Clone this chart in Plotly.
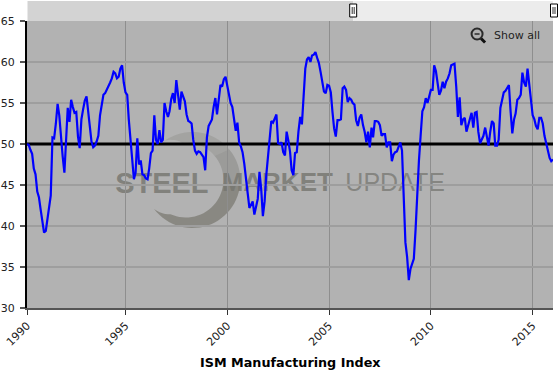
import numpy as np
import pandas as pd
import plotly.graph_objects as go

series_name = "ISM Manufacturing Index"
y_ticks = [30, 35, 40, 45, 50, 55, 60, 65]
x_tick_labels = ["1990", "1995", "2000", "2005", "2010", "2015"]
x_tick_dates = ["1990-03-01", "1995-01-01", "2000-01-01", "2005-01-01", "2010-01-01", "2015-01-01"]
reference_level = 50

values_1990s = [
    50, 49.9, 49.3, 48.8, 47, 46.3, 44.2, 43.5, 42, 40.5, 39.2,
    39.4, 40.8, 42.7, 43.7, 50.8, 50.7, 52.5, 54.9, 53.5, 50.5, 48.5, 46.5,
    51.5, 54.4, 52.7, 55.4, 54.5, 53.8, 53.9, 50.9, 49.5, 53, 54.2, 55.3,
    55.8, 54, 51.5, 50.3, 49.6, 49.8, 50.3, 51, 53.5, 55, 56, 56.2,
    56.6, 57, 57.5, 58, 58.8, 58.6, 58, 58.2, 59.2, 59.6, 57.5, 56.3,
    56, 53, 50.5, 47.8, 45.7, 46.5, 50.7, 47.5, 48, 46.3, 46.2, 45.8,
    45.7, 47, 48.9, 49.2, 53.5, 50.5, 50, 51.7, 50.2, 50.5, 55, 54,
    53.3, 54, 55.5, 56.2, 55, 57.8, 56, 54.2, 56.4, 55.8, 55.2, 53.6,
    52.8, 52.7, 52.5, 50.5, 49.2, 48.8, 49.1, 49, 48.7, 48.4, 46.8, 50.8,
    52.2, 52.5, 53, 54.5, 55.6, 53.6, 55.5, 57.2, 57, 57.9, 58.2, 57,
]
values_2000s = [
    55.8, 55, 54.5, 53.2, 51.6, 52.6, 50.2, 49.7, 49, 47.6, 45.5, 44,
    42.2, 42.7, 43, 41.4, 42.5, 43.3, 46.6, 44.5, 41.2, 43, 46.2, 48.3,
    51, 52.8, 52.6, 53.2, 53.6, 50.1, 50, 50.2, 49, 48.6, 51.5, 50.4,
    49, 46.8, 46.2, 48.9, 49, 51.5, 53.3, 52.4, 56, 59.2, 60.3, 60.6,
    60, 60.8, 60.9, 61.2, 60.5, 59.9, 58.8, 57.5, 56.4, 56.2, 57.2, 57.1,
    56.3, 54, 51.9, 50.9, 52.9, 52.9, 53, 56.8, 57, 56.6, 55.1, 55.6,
    55.4, 55, 54.8, 52.9, 52.2, 53.2, 53.6, 52.3, 51.5, 50.2, 51.5, 49.6,
    52, 50.8, 52.8, 52.8, 52.7, 52.3, 51, 51.2, 51.2, 49.6, 50.2, 50.2,
    47.9, 48.7, 49, 49.1, 49.8, 50.2, 49.2, 43, 38, 36.2, 33.4, 34.8,
    35.4, 36, 39.5, 44, 48, 51, 54, 54.5, 55.6, 55, 56, 56.6,
]
values_2010s = [
    56.6, 59.6, 58.9, 57.5, 56, 56.5, 57.6, 56.8, 57.6, 58, 58.6, 59.6,
    59.7, 59.8, 57, 53.3, 55.7, 52.3, 53, 53.2, 51.5, 52.2, 53, 53.8,
    52, 53.8, 53.9, 51.5, 50.1, 50.5, 51, 52, 51, 49.8, 51.5, 52.8,
    52.5, 49.8, 49.8, 50.5, 54.4, 55.5, 56.3, 56.5, 56.8, 57.2, 54, 51.3,
    53, 53.7, 55.4, 55.6, 56, 58.7, 57.5, 57, 59.2, 57, 55, 53.5,
    53, 52.2, 51.8, 53.2, 53.2, 52.5, 51, 50.1, 49.3, 48.3, 47.9, 48.1,
]
values = values_1990s + values_2000s + values_2010s
dates = pd.date_range("1990-03-01", periods=len(values), freq="MS")

W, H = 560, 371
L, R, T, B = 26.5, 553.0, 21.0, 308.0


def px(x):
    return (x - L) / (R - L)


def py(y):
    return (B - y) / (B - T)


def rect(x0, y0, x1, y1, fill, line=None, lw=0, layer="above"):
    return dict(type="rect", xref="paper", yref="paper", x0=px(x0), x1=px(x1), y0=py(y0), y1=py(y1),
                fillcolor=fill, line=dict(color=line or fill, width=lw), layer=layer)


def seg(x0, y0, x1, y1, color, lw):
    return dict(type="line", xref="paper", yref="paper", x0=px(x0), x1=px(x1), y0=py(y0), y1=py(y1),
                line=dict(color=color, width=lw), layer="above")


def word(text, x0, x1, size, color):
    return dict(type="rect", xref="paper", yref="paper", x0=px(x0), x1=px(x1), y0=py(192), y1=py(168),
                line=dict(width=0), fillcolor="rgba(0,0,0,0)", layer="below",
                label=dict(text=text, textposition="middle center",
                           font=dict(family="Liberation Sans", size=size, color=color)))


def ring_piece(a0, a1, fill):
    """One stretch of the logo's crescent, tapering towards the two open tips."""
    full0, full1 = -125.0, 143.0
    a = np.linspace(a0, a1, 30)
    t = (a - full0) / (full1 - full0)
    taper = np.clip(np.sin(np.pi * t) * 3, 0, 1)
    r = np.radians(a)
    ox, oy = 192 + 48 * np.cos(r), 180 + 48 * np.sin(r)
    ix, iy = 185.6 + 37.5 * np.cos(r), 180 + 37.5 * np.sin(r)
    ix, iy = ox + (ix - ox) * taper, oy + (iy - oy) * taper
    pts = list(zip(ox, oy)) + list(zip(ix[::-1], iy[::-1]))
    path = "M" + "L".join(f"{px(x):.4f},{py(y):.4f}" for x, y in pts) + "Z"
    return dict(type="path", xref="paper", yref="paper", path=path, fillcolor=fill,
                line=dict(width=0), layer="below")


shapes = [
    ring_piece(-125, -40, "rgba(125,125,118,0.28)"),
    ring_piece(-40, 5, "rgba(125,125,118,0.42)"),
    ring_piece(5, 143, "rgba(118,116,108,0.68)"),
    word("<b>STEEL</b>", 110, 213, 29, "rgba(118,118,112,0.82)"),
    word("<b>MARKET</b>", 217, 337, 26, "rgba(118,118,112,0.82)"),
    word("UPDATE", 340, 450, 25, "rgba(125,125,120,0.85)"),
    rect(27, 1, 353, 21, "#d3d3d3", layer="above"),
    rect(353, 1, 553, 21, "#ececec", layer="above"),
    dict(type="circle", xref="paper", yref="paper", x0=px(471.5), x1=px(482.5), y0=py(39.5), y1=py(28.5),
         fillcolor="rgba(0,0,0,0)", line=dict(color="#2b2b2b", width=2), layer="above"),
    seg(474.5, 34, 479.5, 34, "#2b2b2b", 1.5),
    seg(481, 38.5, 485, 42.5, "#111111", 3),
]
for hx in (349.5, 550.5):
    shapes.append(dict(type="rect", xref="paper", yref="paper", x0=px(hx), x1=px(hx + 7), y0=py(17), y1=py(4),
                       fillcolor="white", line=dict(color="black", width=1), layer="above"))
    shapes.append(seg(hx + 2.5, 7, hx + 2.5, 14, "#333333", 1))
    shapes.append(seg(hx + 4.5, 7, hx + 4.5, 14, "#333333", 1))

fig = go.Figure()
fig.add_trace(go.Scatter(x=[x_tick_dates[0], dates[-1]], y=[reference_level, reference_level], mode="lines",
                         line=dict(color="black", width=3), hoverinfo="skip", showlegend=False))
fig.add_trace(go.Scatter(x=dates, y=values, mode="lines", name=series_name,
                         line=dict(color="#0000ff", width=2.2), showlegend=False))

fig.update_layout(
    width=W, height=H, autosize=False,
    margin=dict(l=L, r=W - R, t=T, b=H - B, pad=0),
    paper_bgcolor="white", plot_bgcolor="#b2b2b2",
    font=dict(family="DejaVu Sans", size=11, color="#222222"),
    shapes=shapes,
    annotations=[
        dict(text="Show all", xref="paper", yref="paper", x=px(492), y=py(35), xanchor="left", yanchor="middle",
             showarrow=False, font=dict(family="DejaVu Sans", size=11, color="#222222")),
        dict(text=f"<b>{series_name}</b>", xref="paper", yref="paper", x=px(290.5), y=py(362), xanchor="center",
             yanchor="middle", showarrow=False, font=dict(family="DejaVu Sans", size=12.75, color="black")),
    ],
    xaxis=dict(range=[x_tick_dates[0], dates[-1]], type="date", tickmode="array", tickvals=x_tick_dates,
               ticktext=x_tick_labels, tickangle=-45, ticks="outside", ticklen=5, tickwidth=1, tickcolor="#333333",
               showgrid=True, gridcolor="#8e8e8e", gridwidth=1, showline=True, linecolor="#555555", linewidth=2,
               zeroline=False, automargin=False),
    yaxis=dict(range=[30, 65], tickmode="array", tickvals=y_ticks, ticks="outside", ticklen=5, tickwidth=2,
               tickcolor="#555555", showgrid=True, gridcolor="#9e9e9e", gridwidth=2, showline=True,
               linecolor="black", linewidth=2, zeroline=False, automargin=False, ticklabelstandoff=3),
)

fig.write_html("out.html", post_script="document.body.style.margin='0';",
               config=dict(displayModeBar=False))
